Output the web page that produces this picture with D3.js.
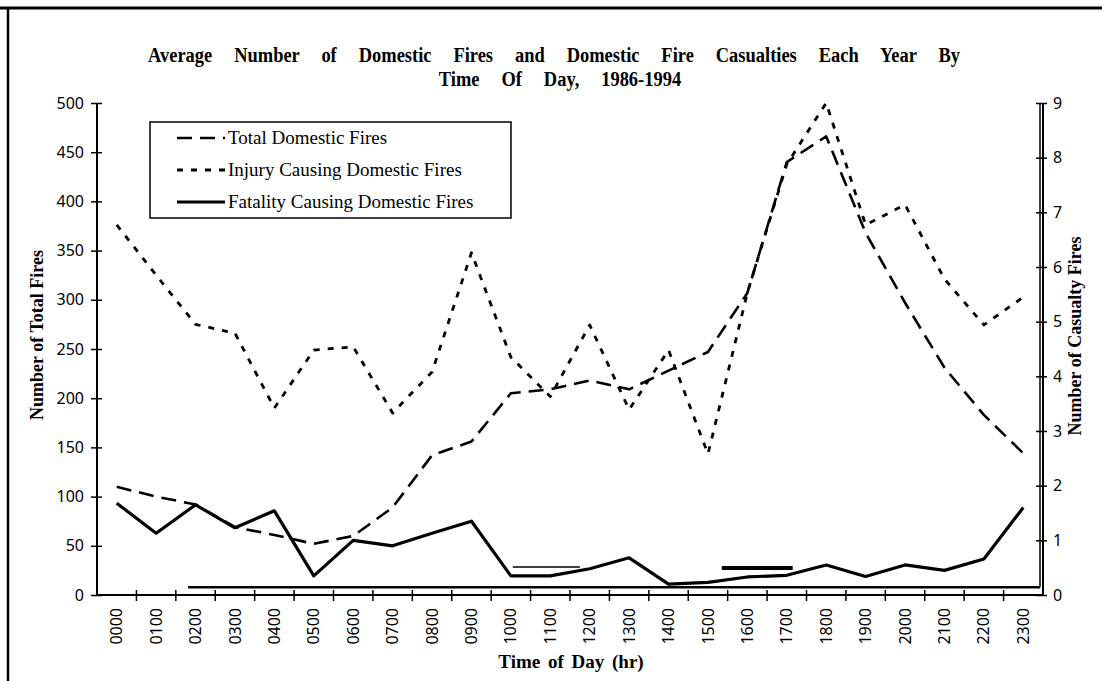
<!DOCTYPE html>
<html>
<head>
<meta charset="utf-8">
<script src="https://cdn.jsdelivr.net/npm/d3@7"></script>
<style>
body { margin: 0; background: #fff; }
svg { display: block; }
</style>
</head>
<body>
<svg></svg>
<script>
var WIDTH = 1102;
var HEIGHT = 681;

// data
var hours = ['0000','0100','0200','0300','0400','0500','0600','0700','0800','0900','1000','1100',
	'1200','1300','1400','1500','1600','1700','1800','1900','2000','2100','2200','2300'];
var totalFires = [110, 100, 92, 69, 61, 52, 60, 89, 142, 156, 205, 209,
	218, 209, 228, 247, 307, 440, 466, 368, 297, 231, 183, 144];
var injuryFires = [6.77, 5.85, 4.95, 4.79, 3.42, 4.48, 4.54, 3.33, 4.08, 6.26, 4.35, 3.63,
	4.94, 3.39, 4.48, 2.58, 5.53, 7.88, 9.0, 6.77, 7.14, 5.78, 4.94, 5.45];
var fatalityFires = [1.68, 1.13, 1.65, 1.23, 1.54, 0.35, 1.0, 0.9, 1.13, 1.35, 0.35, 0.35,
	0.48, 0.68, 0.2, 0.23, 0.33, 0.36, 0.55, 0.34, 0.55, 0.45, 0.66, 1.6];
var leftTicks = [0, 50, 100, 150, 200, 250, 300, 350, 400, 450, 500];
var rightTicks = [0, 1, 2, 3, 4, 5, 6, 7, 8, 9];
var seriesNames = ['Total Domestic Fires', 'Injury Causing Domestic Fires', 'Fatality Causing Domestic Fires'];
var titleLines = ['Average Number of Domestic Fires and Domestic Fire Casualties Each Year By', 'Time Of Day, 1986-1994'];

var svg = d3.select('svg')
	.attr('width', WIDTH)
	.attr('height', HEIGHT);

var x = d3.scaleBand().domain(hours).range([97, 1043]);
var xEdge = d3.scaleLinear().domain([0, hours.length]).range([97, 1043]); //band boundaries
var yLeft = d3.scaleLinear().domain([0, 500]).range([595, 103]);
var yRight = d3.scaleLinear().domain([0, 9]).range([595, 103]);
var xMid = function(h){ return x(h) + x.bandwidth() / 2; };

// page frame (top rule and left rule of the scanned page)
svg.append('line').attr('x1', 0).attr('x2', WIDTH).attr('y1', 8).attr('y2', 8)
	.attr('stroke', '#000').attr('stroke-width', 3);
svg.append('line').attr('x1', 8).attr('x2', 8).attr('y1', 9).attr('y2', HEIGHT)
	.attr('stroke', '#000').attr('stroke-width', 2.5);

// title, condensed bold serif with wide word gaps
var SQUEEZE = 0.84;
var wordGap = 0;
var titleSpec = [{cx: 554, y: 62}, {cx: 560, y: 86}];
titleLines.forEach(function(line, i){
	var t = svg.append('text')
		.attr('transform', 'translate(' + titleSpec[i].cx + ',' + titleSpec[i].y + ') scale(' + SQUEEZE + ',1)')
		.attr('text-anchor', 'middle')
		.style('font-family', '"Liberation Serif", serif')
		.style('font-weight', 'bold')
		.style('font-size', '22px')
		.text(line);
	if(i === 0){ //first line fills 148..960, second line reuses its word gap
		var natural = t.node().getComputedTextLength();
		var spaces = line.split(' ').length - 1;
		wordGap = Math.max(0, (812 / SQUEEZE - natural) / spaces);
	}
	t.style('word-spacing', wordGap + 'px');
});

// plot area border remnants (right edge and partial bottom edge)
svg.append('line').attr('x1', 1040).attr('x2', 1040).attr('y1', 103).attr('y2', 587)
	.attr('stroke', '#000').attr('stroke-width', 1.5);
svg.append('line').attr('x1', xEdge(2.31)).attr('x2', 1040).attr('y1', yLeft(8)).attr('y2', yLeft(8))
	.attr('stroke', '#000').attr('stroke-width', 2.5);
// scanning marks
svg.append('line').attr('x1', xEdge(10.55)).attr('x2', xEdge(12.25)).attr('y1', yLeft(28.5)).attr('y2', yLeft(28.5))
	.attr('stroke', '#000').attr('stroke-width', 1.5);
svg.append('line').attr('x1', xEdge(15.85)).attr('x2', xEdge(17.65)).attr('y1', yLeft(27.5)).attr('y2', yLeft(27.5))
	.attr('stroke', '#000').attr('stroke-width', 4);

// left axis
var leftAxis = d3.axisLeft(yLeft).tickValues(leftTicks).tickSize(0).tickPadding(13);
var gl = svg.append('g').attr('id', 'y-axis').attr('transform', 'translate(97,0)').call(leftAxis);
gl.select('.domain').remove();
gl.selectAll('.tick line').attr('x1', -6).attr('x2', 5).attr('stroke', '#000').attr('stroke-width', 1.5);
gl.selectAll('.tick text')
	.style('font-family', '"Noto Sans", sans-serif').style('font-size', '16px').attr('fill', '#000');
svg.append('line').attr('x1', 97).attr('x2', 97).attr('y1', 103).attr('y2', 596)
	.attr('stroke', '#000').attr('stroke-width', 2);

// right axis
var rightAxis = d3.axisRight(yRight).tickValues(rightTicks).tickSize(0).tickPadding(10);
var gr = svg.append('g').attr('id', 'y2-axis').attr('transform', 'translate(1043,0)').call(rightAxis);
gr.select('.domain').remove();
gr.selectAll('.tick line').attr('x1', -7).attr('x2', 4).attr('stroke', '#000').attr('stroke-width', 1.5);
gr.selectAll('.tick text')
	.style('font-family', '"Noto Sans", sans-serif').style('font-size', '16px').attr('fill', '#000');
svg.append('line').attr('x1', 1043).attr('x2', 1043).attr('y1', 103).attr('y2', 596)
	.attr('stroke', '#000').attr('stroke-width', 2);

// x axis
var bottomAxis = d3.axisBottom(x).tickSize(0).tickPadding(0);
var gx = svg.append('g').attr('id', 'x-axis').attr('transform', 'translate(0,595)').call(bottomAxis);
gx.select('.domain').remove();
gx.selectAll('.tick text')
	.attr('transform', 'rotate(-90)')
	.attr('text-anchor', 'end')
	.attr('x', -13).attr('y', 0).attr('dy', '0.35em')
	.style('font-family', '"Noto Sans", sans-serif').style('font-size', '16px').attr('fill', '#000');
gx.selectAll('.edge')
	.data(d3.range(1, hours.length))
	.enter().append('line')
	.attr('class', 'edge')
	.attr('x1', function(d){ return xEdge(d); }).attr('x2', function(d){ return xEdge(d); })
	.attr('y1', -5).attr('y2', 6)
	.attr('stroke', '#000').attr('stroke-width', 1.5);
svg.append('line').attr('x1', 96).attr('x2', 1044).attr('y1', 595).attr('y2', 595)
	.attr('stroke', '#000').attr('stroke-width', 2);

// axis titles
var titleFont = function(sel, size){
	sel.style('font-family', '"Liberation Serif", serif').style('font-weight', 'bold').style('font-size', size);
};
svg.append('text').attr('transform', 'translate(43,335) rotate(-90)').attr('text-anchor', 'middle')
	.call(titleFont, '18px').text('Number of Total Fires');
svg.append('text').attr('transform', 'translate(1081,336) rotate(-90)').attr('text-anchor', 'middle')
	.call(titleFont, '18px').text('Number of Casualty Fires');
svg.append('text').attr('x', 571).attr('y', 668).attr('text-anchor', 'middle')
	.style('word-spacing', '3px')
	.call(titleFont, '19px').text('Time of Day (hr)');

// series
var styles = [
	{dash: '15,8', width: 2.6},
	{dash: '6,8', width: 2.8},
	{dash: null, width: 3.2}
];
var series = [
	{values: totalFires, y: yLeft},
	{values: injuryFires, y: yRight},
	{values: fatalityFires, y: yRight}
];
series.forEach(function(s, i){
	var line = d3.line()
		.x(function(d, j){ return xMid(hours[j]); })
		.y(function(d){ return s.y(d); });
	svg.append('path')
		.datum(s.values)
		.attr('d', line)
		.attr('fill', 'none')
		.attr('stroke', '#000')
		.attr('stroke-width', styles[i].width)
		.attr('stroke-linejoin', 'round')
		.attr('stroke-dasharray', styles[i].dash);
});

// legend
var legend = svg.append('g').attr('id', 'legend');
legend.append('rect').attr('x', 150).attr('y', 122).attr('width', 361).attr('height', 96)
	.attr('fill', '#fff').attr('stroke', '#000').attr('stroke-width', 1.5);
seriesNames.forEach(function(name, i){
	var cy = 138 + i * 32;
	legend.append('line').attr('x1', 177).attr('x2', 225).attr('y1', cy).attr('y2', cy)
		.attr('stroke', '#000').attr('stroke-width', styles[i].width)
		.attr('stroke-dasharray', styles[i].dash);
	legend.append('text').attr('x', 228).attr('y', cy + 6)
		.style('font-family', '"Liberation Serif", serif').style('font-size', '19px')
		.text(name);
});
</script>
</body>
</html>
